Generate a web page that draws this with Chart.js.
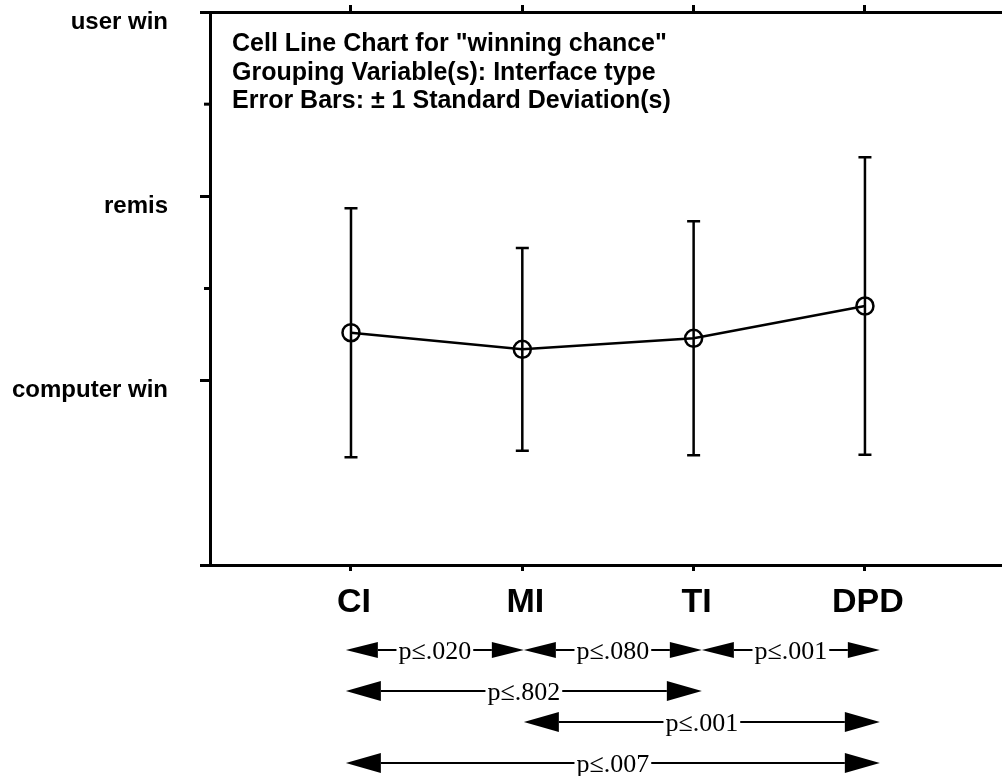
<!DOCTYPE html>
<html lang="en">

<head>
    <meta charset="UTF-8">
    <title>Cell Line Chart</title>
    <style>
        html, body { margin: 0; padding: 0; background: #fff; }
        #chart-container { width: 1002px; height: 776px; }
    </style>
</head>

<body>
    <div id="chart-container"><canvas id="myChart"></canvas></div>

    <script src="https://cdn.jsdelivr.net/npm/chart.js"></script>
    <script>
        // data (0 = computer win, 1 = remis, 2 = user win)
        const categories = ['CI', 'MI', 'TI', 'DPD']
        const means = [0.26, 0.17, 0.23, 0.405]
        const sds = [0.675, 0.55, 0.635, 0.807]
        const yTickValues = [-1, 0, 0.5, 1, 1.5, 2]
        const yLabelValues = [0, 1, 2]
        const yLabelTexts = ['computer win', 'remis', 'user win']
        const titleLines = [
            'Cell Line Chart for "winning chance"',
            'Grouping Variable(s): Interface type',
            'Error Bars: \u00b1 1 Standard Deviation(s)'
        ]
        // pairwise comparisons drawn under the axis
        const compFrom = [0, 1, 2, 0, 1, 0]
        const compTo = [1, 2, 3, 2, 3, 3]
        const compRow = [0, 0, 0, 1, 2, 3]
        const compP = ['p\u2264.020', 'p\u2264.080', 'p\u2264.001', 'p\u2264.802', 'p\u2264.001', 'p\u2264.007']

        const sans = '"Liberation Sans", Arial, sans-serif'
        const serif = '"Liberation Serif", "Times New Roman", serif'
        const rowY = [650, 691, 722, 763]

        function drawArrow(ctx, x1, x2, yy, text, hl, hh) {
            ctx.font = '26px ' + serif
            const tw = ctx.measureText(text).width
            const cx = (x1 + x2) / 2
            ctx.beginPath()
            ctx.moveTo(x1, yy); ctx.lineTo(x1 + hl, yy - hh); ctx.lineTo(x1 + hl, yy + hh); ctx.closePath()
            ctx.moveTo(x2, yy); ctx.lineTo(x2 - hl, yy - hh); ctx.lineTo(x2 - hl, yy + hh); ctx.closePath()
            ctx.fill()
            ctx.beginPath()
            ctx.moveTo(x1 + hl, yy); ctx.lineTo(cx - tw / 2 - 2, yy)
            ctx.moveTo(cx + tw / 2 + 2, yy); ctx.lineTo(x2 - hl, yy)
            ctx.stroke()
            ctx.textAlign = 'center'
            ctx.textBaseline = 'alphabetic'
            ctx.fillText(text, cx, yy + 9)
        }

        const extras = {
            id: 'extras',
            afterDraw(chart) {
                const ctx = chart.ctx, x = chart.scales.x, y = chart.scales.y
                const area = chart.chartArea
                ctx.save()
                ctx.strokeStyle = '#000'
                ctx.fillStyle = '#000'
                ctx.lineWidth = 2.5

                // error bars (+/- 1 sd)
                means.forEach((m, i) => {
                    const px = x.getPixelForValue(i)
                    const top = y.getPixelForValue(m + sds[i])
                    const bot = y.getPixelForValue(m - sds[i])
                    ctx.beginPath()
                    ctx.moveTo(px, top); ctx.lineTo(px, bot)
                    ctx.moveTo(px - 6.5, top); ctx.lineTo(px + 6.5, top)
                    ctx.moveTo(px - 6.5, bot); ctx.lineTo(px + 6.5, bot)
                    ctx.stroke()
                })

                // short minor ticks on the y axis
                ctx.lineWidth = 3
                yTickValues.filter(v => v % 1 !== 0).forEach(v => {
                    const py = y.getPixelForValue(v)
                    ctx.beginPath()
                    ctx.moveTo(area.left - 6, py); ctx.lineTo(area.left, py)
                    ctx.stroke()
                })

                // title block
                ctx.font = 'bold 25px ' + sans
                ctx.textAlign = 'left'
                ctx.textBaseline = 'alphabetic'
                const baselines = [51, 80, 108]
                titleLines.forEach((t, i) => ctx.fillText(t, area.left + 22, baselines[i]))

                // comparison arrows
                ctx.lineWidth = 2
                compP.forEach((p, i) => {
                    const x1 = x.getPixelForValue(compFrom[i] * 1.039 - 0.03)
                    const x2 = x.getPixelForValue(compTo[i] * 1.039 - 0.03)
                    const small = compRow[i] === 0
                    drawArrow(ctx, x1, x2, rowY[compRow[i]], p, small ? 32 : 35, small ? 8 : 10)
                })
                ctx.restore()
            }
        }

        const catTicks = s => { s.ticks = categories.map((c, i) => ({ value: i })) }
        const noPad = s => { s.paddingTop = 0; s.paddingBottom = 0; s.paddingLeft = 0; s.paddingRight = 0 }

        const ctx = document.getElementById('myChart')
        myChart = new Chart(ctx, {
            type: 'line',
            data: {
                datasets: [{
                    data: means.map((m, i) => ({ x: i, y: m })),
                    borderColor: '#000',
                    borderWidth: 2.5,
                    pointRadius: 8.5,
                    pointBorderWidth: 2.5,
                    pointBorderColor: '#000',
                    pointBackgroundColor: 'rgba(0,0,0,0)',
                    tension: 0,
                    clip: false
                }]
            },
            options: {
                responsive: true,
                maintainAspectRatio: false,
                animation: false,
                layout: { padding: 0, autoPadding: false },
                plugins: { legend: { display: false }, tooltip: { enabled: false } },
                scales: {
                    x: {
                        type: 'linear', position: 'bottom', min: -0.823, max: 3.8,
                        afterBuildTicks: catTicks,
                        afterFit: s => { s.height = 211; noPad(s) },
                        grid: { drawOnChartArea: false, tickLength: 6, tickWidth: 3, tickColor: '#000' },
                        border: { color: '#000', width: 3 },
                        ticks: {
                            callback: v => categories[v],
                            font: { family: sans, size: 34, weight: 'bold' },
                            color: '#000', padding: 11, labelOffset: 3, maxRotation: 0, autoSkip: false
                        }
                    },
                    x2: {
                        type: 'linear', position: 'top', min: -0.823, max: 3.8,
                        afterBuildTicks: catTicks,
                        afterFit: s => { s.height = 12; noPad(s) },
                        grid: { drawOnChartArea: false, tickLength: 7, tickWidth: 3, tickColor: '#000' },
                        border: { color: '#000', width: 3 },
                        ticks: { display: false }
                    },
                    y: {
                        min: -1, max: 2,
                        afterBuildTicks: s => { s.ticks = yTickValues.map(v => ({ value: v })) },
                        afterFit: s => { s.width = 210; noPad(s) },
                        grid: {
                            drawOnChartArea: false, tickLength: 10, tickWidth: 3,
                            tickColor: c => (c.tick && c.tick.value % 1 !== 0) ? 'rgba(0,0,0,0)' : '#000'
                        },
                        border: { color: '#000', width: 3 },
                        ticks: {
                            callback: v => {
                                const k = yLabelValues.indexOf(v)
                                return k < 0 ? '' : yLabelTexts[k]
                            },
                            font: { family: sans, size: 24, weight: 'bold' },
                            color: '#000', padding: 32, labelOffset: 10, autoSkip: false
                        }
                    }
                }
            },
            plugins: [extras]
        })
    </script>
</body>

</html>
